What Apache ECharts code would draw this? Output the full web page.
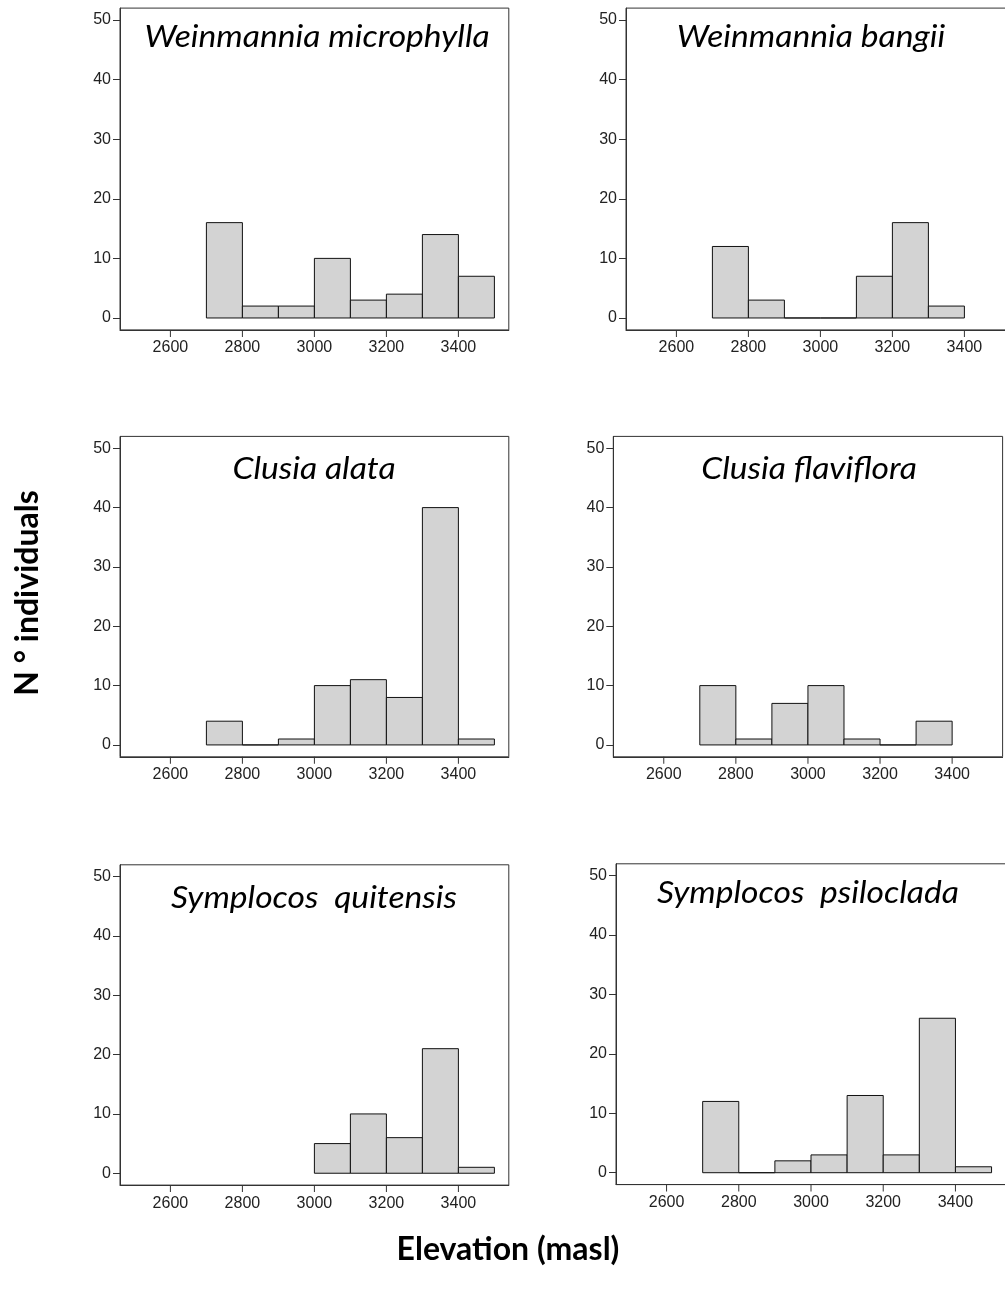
<!DOCTYPE html>
<html>
<head>
<meta charset="utf-8">
<script src="https://cdn.jsdelivr.net/npm/echarts@6/dist/echarts.min.js"></script>
<style>
  html, body { margin: 0; padding: 0; background: #fff; }
  #chart { width: 1005px; height: 1298px; }
</style>
</head>
<body>
<div id="chart"></div>
<script>
// Histogram bins: lower edge of each 100 m elevation class
const BIN_WIDTH = 100;
const bins2700to3400 = [2700, 2800, 2900, 3000, 3100, 3200, 3300, 3400];
const bins2700to3300 = [2700, 2800, 2900, 3000, 3100, 3200, 3300];
const bins3000to3400 = [3000, 3100, 3200, 3300, 3400];

// Number of individuals per elevation class
const weinmanniaMicrophylla = [16, 2, 2, 10, 3, 4, 14, 7];
const weinmanniaBangii      = [12, 3, 0, 0, 7, 16, 2];
const clusiaAlata           = [4, 0, 1, 10, 11, 8, 40, 1];
const clusiaFlaviflora      = [10, 1, 7, 10, 1, 0, 4];
const symplocosQuitensis    = [5, 10, 6, 21, 1];
const symplocosPsiloclada   = [12, 0, 2, 3, 13, 3, 26, 1];

// Axis ticks
const elevationTicks = [2600, 2800, 3000, 3200, 3400];
const countTicks = [0, 10, 20, 30, 40, 50];

// Axis ranges (data range padded by 4% on each side)
const X_MIN = 2460, X_MAX = 3540;
const Y_MIN = -2, Y_MAX = 52;

const panels = [
  { name: 'Weinmannia microphylla', bins: bins2700to3400, counts: weinmanniaMicrophylla,
    grid: { left: 120, top: 8.1, width: 388.8, height: 321.8 }, titleX: 317, titleY: 37 },
  { name: 'Weinmannia bangii', bins: bins2700to3300, counts: weinmanniaBangii,
    grid: { left: 626, top: 8.1, width: 388.8, height: 321.8 }, titleX: 811, titleY: 37 },
  { name: 'Clusia alata', bins: bins2700to3400, counts: clusiaAlata,
    grid: { left: 120, top: 436.4, width: 388.8, height: 320.4 }, titleX: 314, titleY: 469 },
  { name: 'Clusia flaviflora', bins: bins2700to3300, counts: clusiaFlaviflora,
    grid: { left: 613.3, top: 436.4, width: 389.3, height: 320.4 }, titleX: 809, titleY: 469 },
  { name: 'Symplocos  quitensis', bins: bins3000to3400, counts: symplocosQuitensis,
    grid: { left: 120, top: 864.8, width: 388.8, height: 320.3 }, titleX: 314, titleY: 898 },
  { name: 'Symplocos  psiloclada', bins: bins2700to3400, counts: symplocosPsiloclada,
    grid: { left: 616, top: 863.8, width: 390, height: 320.8 }, titleX: 808, titleY: 893 }
];

const AXIS_COLOR = '#333';
const TICK_LEN = 7;
const LABEL_FONT = '"Liberation Sans", Arial, sans-serif';
const TEXT_FONT = 'Lato, "Open Sans", sans-serif';

const grids = [], xAxes = [], yAxes = [], series = [], graphics = [];

panels.forEach((p, i) => {
  grids.push(Object.assign({
    show: true, borderColor: AXIS_COLOR, borderWidth: 1,
    backgroundColor: 'transparent', containLabel: false, outerBoundsMode: 'none'
  }, p.grid));

  // Elevation axis: each label carries its own tick mark on the first line
  xAxes.push({
    type: 'value', gridIndex: i, min: X_MIN, max: X_MAX, position: 'bottom',
    axisLine: { show: true, onZero: false, lineStyle: { color: AXIS_COLOR, width: 1 } },
    splitLine: { show: false },
    axisTick: { show: false },
    axisLabel: {
      show: true, customValues: elevationTicks, margin: 0,
      formatter: v => '{tick|}\n{num|' + v + '}',
      rich: {
        tick: { width: 1, height: TICK_LEN, lineHeight: TICK_LEN, backgroundColor: AXIS_COLOR },
        num: { fontSize: 16, fontFamily: LABEL_FONT, color: '#222',
          lineHeight: 20, padding: [2, 0, 0, 0] }
      }
    }
  });

  yAxes.push({
    type: 'value', gridIndex: i, min: Y_MIN, max: Y_MAX, position: 'left',
    axisLine: { show: true, onZero: false, lineStyle: { color: AXIS_COLOR, width: 1 } },
    splitLine: { show: false },
    axisTick: { show: true, inside: false, length: TICK_LEN,
      customValues: countTicks, lineStyle: { color: AXIS_COLOR, width: 1 } },
    axisLabel: { show: true, customValues: countTicks, margin: 9,
      formatter: v => String(v),
      color: '#222', fontSize: 16, fontFamily: LABEL_FONT }
  });

  // histogram bars
  series.push({
    type: 'custom', xAxisIndex: i, yAxisIndex: i, silent: true, clip: false,
    data: p.bins.map((b, k) => [b, b + BIN_WIDTH, p.counts[k]]),
    renderItem: function (params, api) {
      const base = api.coord([api.value(0), 0]);
      const top = api.coord([api.value(1), api.value(2)]);
      return {
        type: 'rect',
        shape: { x: base[0], y: top[1], width: top[0] - base[0], height: base[1] - top[1] },
        style: { fill: '#d3d3d3', stroke: '#111', lineWidth: 1 }
      };
    }
  });

  graphics.push({
    type: 'text', x: p.titleX, y: p.titleY, scaleX: 1.12, silent: true,
    style: { text: p.name, fill: '#000', align: 'center', verticalAlign: 'middle',
      font: 'italic 30px ' + TEXT_FONT }
  });
});

graphics.push({
  type: 'text', x: 28, y: 593, rotation: Math.PI / 2, silent: true,
  style: { text: 'N ° individuals', fill: '#000', align: 'center', verticalAlign: 'middle',
    font: 'bold 32px ' + TEXT_FONT }
});
graphics.push({
  type: 'text', x: 508, y: 1250, silent: true,
  style: { text: 'Elevation (masl)', fill: '#000', align: 'center', verticalAlign: 'middle',
    font: 'bold 32px ' + TEXT_FONT }
});

const chart = echarts.init(document.getElementById('chart'), null, { renderer: 'canvas' });
chart.setOption({
  animation: false,
  backgroundColor: '#fff',
  grid: grids,
  xAxis: xAxes,
  yAxis: yAxes,
  series: series,
  graphic: graphics
});
</script>
</body>
</html>
